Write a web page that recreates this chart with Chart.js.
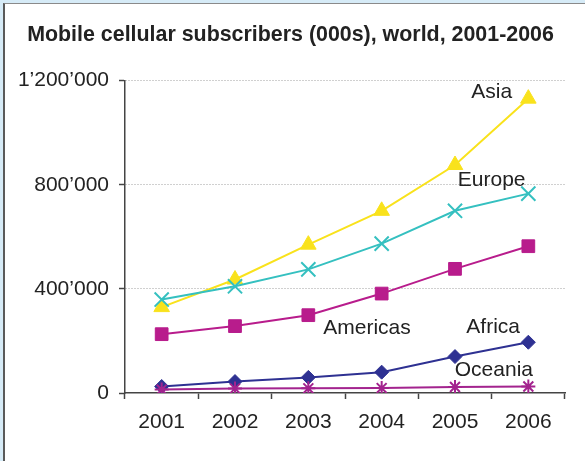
<!DOCTYPE html>
<html>
<head>
<meta charset="utf-8">
<script src="https://cdn.jsdelivr.net/npm/chart.js@4/dist/chart.umd.min.js"></script>
<style>
  html, body { margin: 0; padding: 0; background: #d6ebf7; }
  #panel {
    position: absolute; left: 3px; top: 3px; width: 600px; height: 480px;
    background: #fff; border-left: 2px solid #5a5a5a; border-top: 1px solid #8a8a8a;
  }
  #myChart { position: absolute; left: 0; top: 0; }
</style>
</head>
<body>
<div id="panel"></div>
<canvas id="myChart" width="585" height="461"></canvas>
<script>
// Mobile cellular subscribers by region, thousands
const years = ["2001", "2002", "2003", "2004", "2005", "2006"];
const asia = [330000, 436000, 570000, 700000, 876000, 1131000];
const europe = [359000, 410000, 475000, 574000, 700000, 766000];
const americas = [226000, 257000, 299000, 382000, 477000, 564000];
const africa = [25000, 44000, 60000, 80000, 140000, 195000];
const oceania = [13000, 17000, 18000, 19000, 23000, 25000];
const yTicks = [0, 400000, 800000, 1200000];

// region names written next to their lines: [text, category position, value, align]
const regionLabels = [
  ["Asia", 4.78, 1155000, "right"],
  ["Europe", 4.5, 817000, "center"],
  ["Americas", 2.8, 249000, "center"],
  ["Africa", 4.52, 252000, "center"],
  ["Oceania", 4.53, 89000, "center"],
];

const FONT = "'Liberation Sans', Arial, sans-serif";

function formatApos(v) {
  return String(v).replace(/\B(?=(\d{3})+(?!\d))/g, "\u2019");
}

const labelPlugin = {
  id: "regionLabels",
  afterDatasetsDraw(chart) {
    const ctx = chart.ctx;
    const x = chart.scales.x;
    const y = chart.scales.y;
    const step = x.getPixelForValue(1) - x.getPixelForValue(0);
    ctx.save();
    ctx.font = "21px " + FONT;
    ctx.fillStyle = "#222";
    ctx.textBaseline = "middle";
    regionLabels.forEach(([text, pos, val, align]) => {
      ctx.textAlign = align;
      ctx.fillText(text, x.getPixelForValue(0) + pos * step, y.getPixelForValue(val));
    });
    ctx.restore();
  },
};

function serie(label, data, color, style, radius) {
  return {
    label: label,
    data: data,
    borderColor: color,
    backgroundColor: color,
    borderWidth: 2,
    pointStyle: style,
    pointRadius: radius,
    pointHoverRadius: radius,
    pointBorderWidth: style === "crossRot" || style === "star" ? 2 : 1,
    tension: 0,
  };
}

const ctx = document.getElementById("myChart").getContext("2d");
const miGrafico = new Chart(ctx, {
  type: "line",
  data: {
    labels: years,
    datasets: [
      serie("Oceania", oceania, "#a3238e", "star", 7),
      serie("Africa", africa, "#2e3192", "rectRot", 7),
      serie("Americas", americas, "#b81c8c", "rect", 9),
      serie("Europe", europe, "#35c0c0", "crossRot", 10),
      serie("Asia", asia, "#f9e21c", "triangle", 9),
    ],
  },
  plugins: [labelPlugin],
  options: {
    responsive: false,
    animation: false,
    devicePixelRatio: 1,
    layout: { padding: { left: 0, right: 4, top: 0, bottom: 0 } },
    scales: {
      x: {
        offset: true,
        grid: {
          offset: true,
          drawOnChartArea: false,
          drawTicks: true,
          tickLength: 6,
          tickColor: "#444",
          tickWidth: 1.5,
        },
        border: { display: true, color: "#444", width: 1.5 },
        ticks: {
          color: "#222",
          font: { family: FONT, size: 21 },
          padding: 11,
          maxRotation: 0,
        },
        afterFit: (scale) => { scale.height = 68; },
      },
      y: {
        min: 0,
        max: 1200000,
        afterBuildTicks: (scale) => {
          scale.ticks = yTicks.map((v) => ({ value: v }));
        },
        grid: {
          color: (c) => (c.tick && c.tick.value === 0 ? "rgba(0,0,0,0)" : "#a0a0a0"),
          lineWidth: 1,
          drawTicks: true,
          tickLength: 6,
          tickColor: "#444",
          tickWidth: 1.5,
          tickBorderDash: [],
        },
        border: { display: true, color: "#444", width: 1.5, dash: [1, 2] },
        ticks: {
          color: "#222",
          font: { family: FONT, size: 21 },
          padding: 10,
          callback: (v) => formatApos(v),
        },
        afterFit: (scale) => { scale.width = 125; },
      },
      // empty right-hand axis, only keeps a margin beside the plot
      spacer: {
        type: "linear",
        position: "right",
        grid: { display: false },
        border: { display: false },
        ticks: { display: false },
        afterFit: (scale) => { scale.width = 16; },
      },
    },
    plugins: {
      legend: { display: false },
      tooltip: { enabled: false },
      title: {
        display: true,
        text: "Mobile cellular subscribers (000s), world, 2001-2006",
        color: "#222",
        font: { family: FONT, size: 21.4, weight: "bold" },
        padding: { top: 22, bottom: 33 },
      },
    },
  },
});
</script>
</body>
</html>
